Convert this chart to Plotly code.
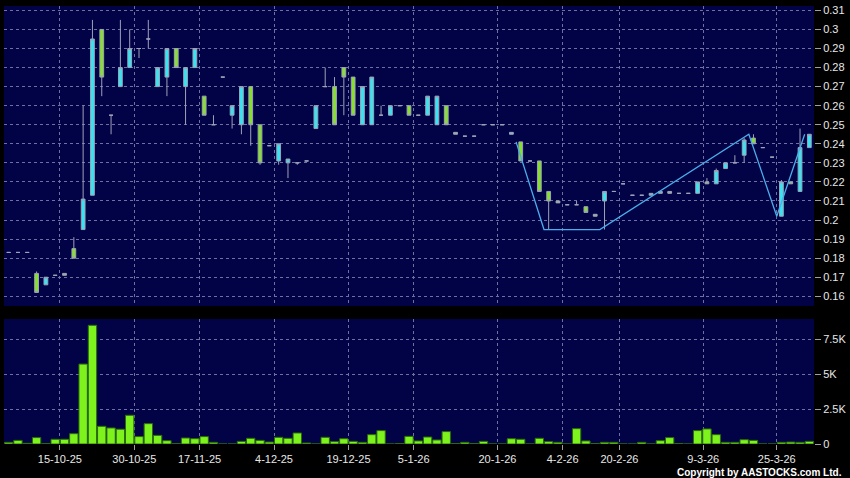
import plotly.graph_objects as go

# ---- data (one entry per trading slot) ----
opens = [0.183, 0.183, 0.183, 0.172, 0.166, 0.171, 0.172, 0.185, 0.195, 0.213,
         0.300, 0.255, 0.270, 0.280, 0.290, 0.295, 0.270, 0.275, 0.290, 0.270,
         0.280, 0.265, 0.250, 0.275, 0.255, 0.250, 0.270, 0.250, 0.239, 0.231,
         0.230, 0.230, 0.231, 0.248, 0.270, 0.270, 0.280, 0.275, 0.250, 0.250,
         0.255, 0.255, 0.260, 0.260, 0.255, 0.255, 0.250, 0.260, 0.246, 0.244,
         0.244, 0.250, 0.250, 0.250, 0.245, 0.241, 0.231, 0.231, 0.215, 0.210,
         0.208, 0.208, 0.207, 0.203, 0.210, 0.215, 0.219, 0.213, 0.213, 0.213,
         0.214, 0.215, 0.214, 0.214, 0.214, 0.220, 0.219, 0.227, 0.230, 0.234,
         0.243, 0.238, 0.233, 0.202, 0.220, 0.215, 0.238]
highs = [0.183, 0.183, 0.183, 0.173, 0.170, 0.171, 0.172, 0.191, 0.260, 0.305,
         0.300, 0.255, 0.305, 0.300, 0.290, 0.305, 0.280, 0.290, 0.290, 0.280,
         0.290, 0.265, 0.255, 0.275, 0.260, 0.270, 0.270, 0.250, 0.239, 0.240,
         0.232, 0.230, 0.231, 0.260, 0.280, 0.275, 0.280, 0.275, 0.270, 0.275,
         0.260, 0.260, 0.260, 0.260, 0.255, 0.265, 0.265, 0.260, 0.246, 0.244,
         0.244, 0.250, 0.250, 0.250, 0.246, 0.241, 0.231, 0.231, 0.215, 0.210,
         0.208, 0.210, 0.207, 0.203, 0.215, 0.215, 0.219, 0.213, 0.213, 0.214,
         0.215, 0.215, 0.214, 0.214, 0.220, 0.222, 0.227, 0.230, 0.234, 0.243,
         0.245, 0.238, 0.233, 0.221, 0.220, 0.248, 0.245]
lows = [0.183, 0.183, 0.183, 0.162, 0.166, 0.171, 0.171, 0.180, 0.195, 0.213,
        0.265, 0.245, 0.270, 0.280, 0.285, 0.290, 0.270, 0.265, 0.280, 0.250,
        0.280, 0.255, 0.250, 0.275, 0.248, 0.245, 0.239, 0.229, 0.239, 0.229,
        0.222, 0.229, 0.231, 0.248, 0.270, 0.250, 0.255, 0.255, 0.250, 0.250,
        0.255, 0.255, 0.260, 0.255, 0.255, 0.255, 0.250, 0.250, 0.245, 0.244,
        0.244, 0.250, 0.250, 0.250, 0.245, 0.231, 0.231, 0.215, 0.195, 0.209,
        0.208, 0.208, 0.204, 0.202, 0.195, 0.215, 0.219, 0.213, 0.213, 0.213,
        0.214, 0.214, 0.214, 0.214, 0.214, 0.219, 0.219, 0.227, 0.230, 0.230,
        0.240, 0.238, 0.233, 0.202, 0.219, 0.215, 0.238]
closes = [0.183, 0.183, 0.183, 0.162, 0.170, 0.171, 0.171, 0.180, 0.211, 0.295,
          0.275, 0.255, 0.280, 0.290, 0.290, 0.295, 0.280, 0.290, 0.280, 0.280,
          0.290, 0.255, 0.250, 0.275, 0.260, 0.270, 0.250, 0.230, 0.239, 0.240,
          0.232, 0.230, 0.231, 0.260, 0.270, 0.250, 0.275, 0.255, 0.270, 0.275,
          0.255, 0.260, 0.260, 0.255, 0.255, 0.265, 0.265, 0.250, 0.245, 0.244,
          0.244, 0.250, 0.250, 0.250, 0.246, 0.231, 0.231, 0.215, 0.210, 0.209,
          0.208, 0.208, 0.204, 0.202, 0.215, 0.215, 0.219, 0.213, 0.213, 0.214,
          0.215, 0.214, 0.214, 0.214, 0.220, 0.219, 0.226, 0.230, 0.230, 0.242,
          0.240, 0.238, 0.233, 0.220, 0.219, 0.238, 0.245]
volumes = [120, 260, 50, 460, 20, 340, 340, 740, 5730, 8510,
           1270, 1150, 1060, 2060, 530, 1460, 620, 240, 20, 430,
           380, 530, 120, 0, 0, 190, 410, 260, 140, 480,
           410, 790, 70, 0, 480, 170, 380, 190, 120, 670,
           960, 0, 30, 550, 220, 500, 290, 890, 30, 120,
           30, 190, 0, 0, 380, 340, 0, 410, 170, 120,
           0, 1100, 220, 30, 120, 120, 0, 0, 120, 0,
           240, 460, 30, 0, 960, 1080, 670, 120, 120, 310,
           260, 0, 0, 120, 140, 120, 190]

# trend line drawn on the chart (slot position, price)
trend_x = [54.5, 57.5, 63.5, 79.5, 82.5, 85.5]
trend_y = [0.241, 0.195, 0.195, 0.245, 0.202, 0.245]

# date tick labels and their slot positions
date_labels = ["15-10-25", "30-10-25", "17-11-25", "4-12-25", "19-12-25", "5-1-26",
               "20-1-26", "4-2-26", "20-2-26", "9-3-26", "25-3-26"]
date_pos = [5.5, 13.5, 20.5, 28.5, 36.5, 43.5, 52.5, 59.5, 65.6, 74.6, 82.5]

price_ticks = [0.16, 0.17, 0.18, 0.19, 0.2, 0.21, 0.22, 0.23, 0.24, 0.25,
               0.26, 0.27, 0.28, 0.29, 0.3, 0.31]
price_ticktext = ["0.16", "0.17", "0.18", "0.19", "0.2", "0.21", "0.22", "0.23",
                  "0.24", "0.25", "0.26", "0.27", "0.28", "0.29", "0.3", "0.31"]
vol_ticks = [0, 2500, 5000, 7500]
vol_ticktext = ["0", "2.5K", "5K", "7.5K"]

# ---- split candles: moving candles vs flat (open == close) ----
slots = list(range(len(opens)))
mx, mo, mh, ml, mc = [], [], [], [], []
fx, fo, fh, fl, fc = [], [], [], [], []
for i in slots:
    if abs(opens[i] - closes[i]) < 1e-9:
        fx.append(i); fo.append(opens[i]); fh.append(highs[i]); fl.append(lows[i]); fc.append(closes[i])
    else:
        mx.append(i); mo.append(opens[i]); mh.append(highs[i]); ml.append(lows[i]); mc.append(closes[i])

CYAN = "#36e4f2"
GREEN = "#86e02c"
WICK = "#9ea2b8"
GRID = "#6f6fa0"
BG = "#020246"
TXT = "#e8e8e8"

fig = go.Figure()
fig.add_trace(go.Candlestick(
    x=mx, open=mo, high=mh, low=ml, close=mc,
    increasing=dict(fillcolor=CYAN, line=dict(color=WICK, width=1)),
    decreasing=dict(fillcolor=GREEN, line=dict(color=WICK, width=1)),
    whiskerwidth=0, xaxis="x", yaxis="y", showlegend=False, hoverinfo="skip"))
fig.add_trace(go.Candlestick(
    x=fx, open=fo, high=fh, low=fl, close=fc,
    increasing=dict(fillcolor=WICK, line=dict(color=WICK, width=1)),
    decreasing=dict(fillcolor=WICK, line=dict(color=WICK, width=1)),
    whiskerwidth=0, xaxis="x", yaxis="y", showlegend=False, hoverinfo="skip"))
fig.add_trace(go.Scatter(
    x=trend_x, y=trend_y, mode="lines",
    line=dict(color="#4aaeea", width=1.3),
    xaxis="x", yaxis="y", showlegend=False, hoverinfo="skip"))
fig.add_trace(go.Bar(
    x=slots, y=volumes,
    marker=dict(color="#7ef21c", line=dict(color="#2a6a0c", width=1)),
    xaxis="x2", yaxis="y2", showlegend=False, hoverinfo="skip"))

fig.update_layout(
    width=850, height=478,
    margin=dict(l=4, r=34, t=6, b=34),
    paper_bgcolor="#000000",
    plot_bgcolor=BG,
    boxgap=0.42,
    bargap=0.1,
    font=dict(family="Liberation Sans, Arial, sans-serif", size=11, color=TXT),
    xaxis=dict(domain=[0, 1], anchor="y", range=[-0.5, 86.5],
               tickvals=date_pos, showticklabels=False, ticks="",
               showgrid=True, gridcolor=GRID, gridwidth=1, griddash="3px,3px",
               zeroline=False, showline=False,
               rangeslider=dict(visible=False)),
    yaxis=dict(domain=[0.3151, 1], anchor="x", side="right",
               range=[0.1549, 0.3123],
               tickvals=price_ticks, ticktext=price_ticktext,
               ticks="outside", ticklen=6, tickcolor="#a0a0a0",
               showgrid=True, gridcolor=GRID, gridwidth=1, griddash="3px,3px",
               zeroline=False, showline=False),
    xaxis2=dict(domain=[0, 1], anchor="y2", range=[-0.5, 86.5], matches="x",
                tickvals=date_pos, ticktext=date_labels,
                ticks="outside", ticklen=5, tickcolor="#a0a0a0",
                showgrid=True, gridcolor=GRID, gridwidth=1, griddash="3px,3px",
                zeroline=False, showline=False),
    yaxis2=dict(domain=[0, 0.2854], anchor="x2", side="right",
                range=[0, 8960],
                tickvals=vol_ticks, ticktext=vol_ticktext,
                ticks="outside", ticklen=6, tickcolor="#a0a0a0",
                showgrid=True, gridcolor=GRID, gridwidth=1, griddash="3px,3px",
                zeroline=False, showline=False),
    annotations=[dict(text="<b>Copyright by AASTOCKS.com Ltd.</b>",
                      xref="paper", yref="paper", x=1.0375, y=-0.064,
                      xanchor="right", yanchor="middle", showarrow=False,
                      font=dict(size=10, color="#ffffff"))],
)

fig.write_html("out.html",
               config={"displayModeBar": False},
               post_script="document.body.style.margin='0';document.body.style.background='#000';")
